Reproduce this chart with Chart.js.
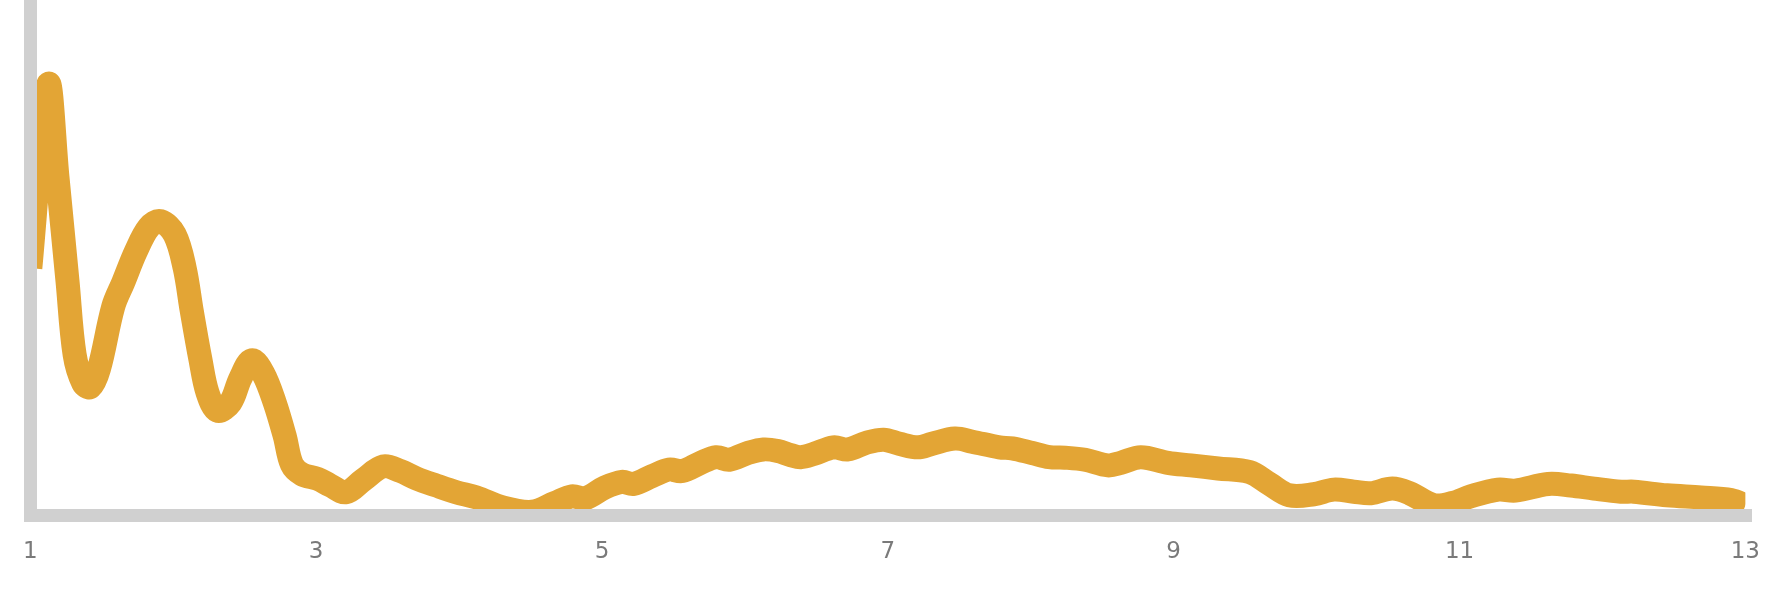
<!DOCTYPE html>
<html>
<head>
<meta charset="utf-8">
<script src="https://cdn.jsdelivr.net/npm/chart.js@4.4.1/dist/chart.umd.min.js"></script>
<style>
  html, body { margin: 0; padding: 0; background: #ffffff; }
  #wrap { width: 1783px; height: 605px; position: relative; }
</style>
</head>
<body>
<div id="wrap"><canvas id="myChart"></canvas></div>
<script>
  const xValues = [
    1.00, 1.125, 1.19, 1.26, 1.31, 1.37, 1.42, 1.48, 1.58, 1.65,
    1.74, 1.83, 1.91, 2.01, 2.08, 2.13, 2.19, 2.24, 2.31, 2.40,
    2.47, 2.55, 2.63, 2.71, 2.78, 2.83, 2.90, 3.01, 3.10, 3.21,
    3.33, 3.47, 3.59, 3.70, 3.84, 3.98, 4.12, 4.31, 4.51, 4.67,
    4.79, 4.88, 5.02, 5.14, 5.22, 5.35, 5.47, 5.56, 5.69, 5.80,
    5.89, 6.02, 6.13, 6.23, 6.32, 6.39, 6.48, 6.62, 6.72, 6.85,
    6.97, 7.08, 7.21, 7.31, 7.47, 7.59, 7.78, 7.87, 8.01, 8.13,
    8.24, 8.38, 8.54, 8.63, 8.77, 8.96, 9.12, 9.31, 9.53, 9.67,
    9.81, 9.98, 10.12, 10.26, 10.38, 10.53, 10.65, 10.82, 10.95, 11.08,
    11.27, 11.39, 11.62, 11.78, 11.94, 12.13, 12.22, 12.45, 12.69, 12.90,
    13.00
  ];

  const yValues = [
    48.0, 83.6, 65.6, 45.5, 31.2, 25.7, 24.9, 28.4, 40.5, 45.2,
    51.3, 55.9, 57.1, 54.5, 48.0, 39.6, 30.3, 23.8, 20.3, 21.9,
    26.6, 30.1, 27.5, 21.9, 15.4, 9.9, 8.0, 7.1, 5.8, 4.5,
    6.9, 9.5, 8.6, 7.2, 5.8, 4.5, 3.5, 1.5, 0.7, 2.4,
    3.7, 3.3, 5.4, 6.5, 6.1, 7.6, 8.9, 8.6, 10.2, 11.3,
    10.8, 12.1, 12.8, 12.5, 11.7, 11.3, 11.9, 13.2, 12.8, 14.1,
    14.7, 13.9, 13.2, 13.9, 14.9, 14.3, 13.2, 13.0, 12.1, 11.3,
    11.2, 10.8, 9.7, 10.2, 11.3, 10.2, 9.7, 9.1, 8.4, 6.1,
    3.9, 4.1, 5.0, 4.6, 4.3, 5.2, 4.3, 2.0, 2.4, 3.7,
    5.0, 4.8, 6.1, 5.8, 5.2, 4.6, 4.6, 3.9, 3.5, 3.0,
    1.9
  ];

  const xTickMin = 1;
  const xTickMax = 13;
  const xTickStep = 2;

  const points = xValues.map((x, i) => ({ x: x, y: yValues[i] }));

  const ctx = document.getElementById('myChart').getContext('2d');

  new Chart(ctx, {
    type: 'line',
    data: {
      datasets: [{
        data: points,
        borderColor: '#e3a535',
        borderWidth: 24,
        borderJoinStyle: 'round',
        borderCapStyle: 'butt',
        pointRadius: 0,
        pointHoverRadius: 0,
        fill: false,
        tension: 0.35
      }]
    },
    options: {
      responsive: true,
      maintainAspectRatio: false,
      animation: false,
      events: [],
      layout: {
        padding: { left: 24, right: 31, top: 0, bottom: 16 }
      },
      plugins: {
        legend: { display: false },
        tooltip: { enabled: false },
        title: { display: false }
      },
      scales: {
        x: {
          type: 'linear',
          min: xTickMin,
          max: xTickMax,
          grid: { display: false, drawTicks: false, lineWidth: 14 },
          border: { display: true, color: '#d0d0d0', width: 13, z: 1 },
          ticks: {
            stepSize: xTickStep,
            padding: 23,
            color: '#7a7a7a',
            font: { family: 'DejaVu Sans', size: 23 },
            maxRotation: 0
          }
        },
        y: {
          min: 0,
          max: 100,
          grid: { display: false, drawTicks: false, lineWidth: 13 },
          border: { display: true, color: '#d0d0d0', width: 13, z: 1 },
          ticks: { display: false }
        }
      }
    }
  });
</script>
</body>
</html>
